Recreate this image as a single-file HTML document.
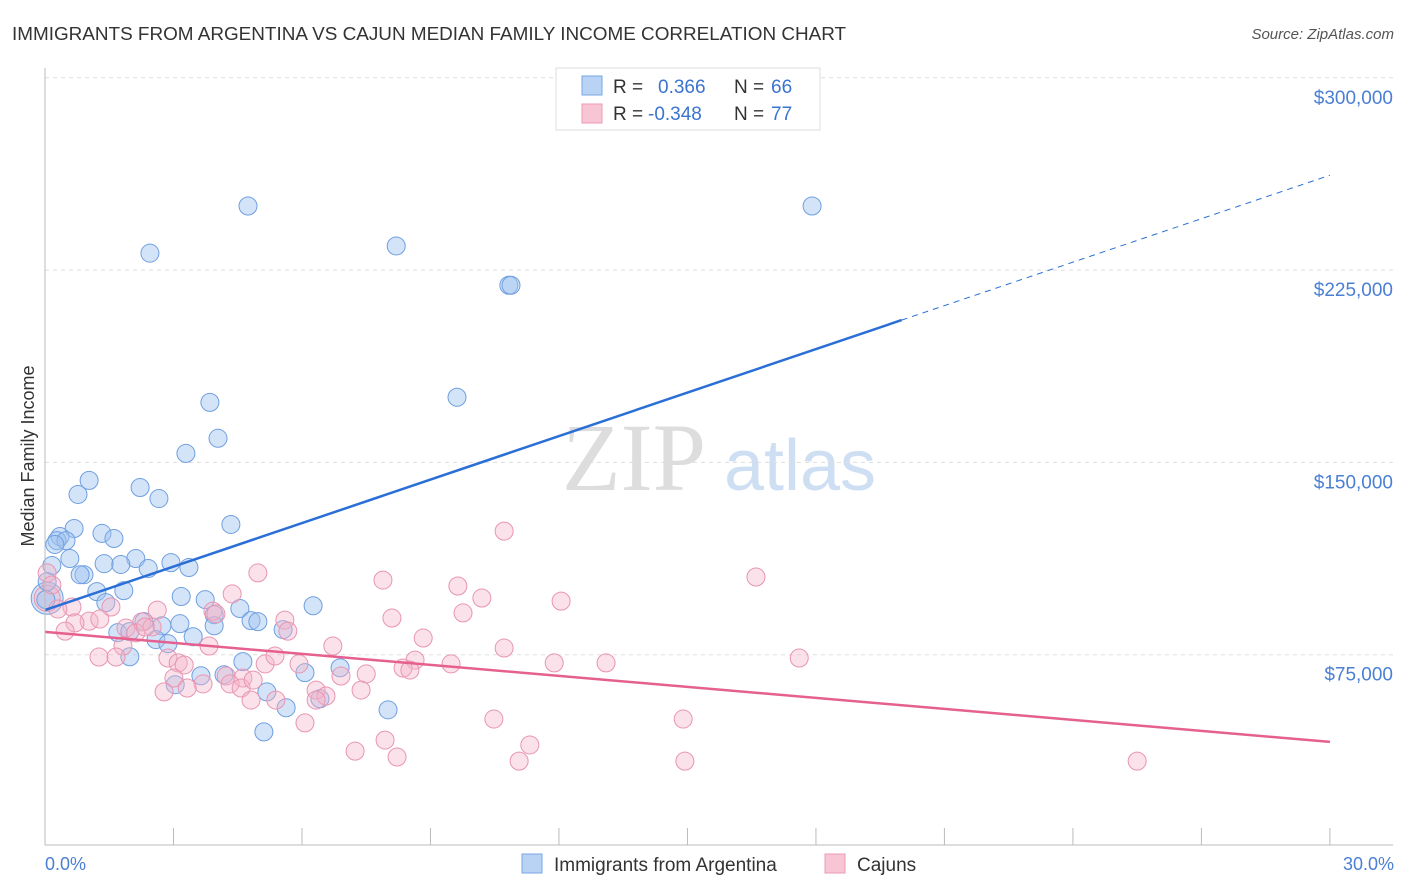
<!DOCTYPE html>
<html><head><meta charset="utf-8"><style>
body{margin:0;background:#fff;font-family:"Liberation Sans",sans-serif;}
svg{display:block}
</style></head><body>
<svg id="chart" width="1406" height="892">
<text x="12" y="40" font-size="18.9" fill="#333">IMMIGRANTS FROM ARGENTINA VS CAJUN MEDIAN FAMILY INCOME CORRELATION CHART</text>
<text x="1394" y="39" font-size="15" fill="#555" font-style="italic" text-anchor="end">Source: ZipAtlas.com</text>
<text transform="translate(34,456) rotate(-90)" font-size="18" fill="#333" text-anchor="middle">Median Family Income</text>
<g><text x="634" y="490" font-size="96" fill="#ddd" font-family="Liberation Serif,serif" text-anchor="middle">ZIP</text><text x="800" y="490" font-size="72" fill="#cfdff3" text-anchor="middle">atlas</text></g>
<g id="grid"></g><g id="ticks"></g><g id="marks"></g><g id="lines"></g>
<line x1="45" y1="68" x2="45" y2="845" stroke="#bbb"/>
<line x1="45" y1="845" x2="1393" y2="845" stroke="#bbb"/>
<text x="45" y="870" font-size="18" fill="#4a7fd4">0.0%</text>
<text x="1394" y="870" font-size="18" fill="#4a7fd4" text-anchor="end">30.0%</text>
<g>
<rect x="556" y="68" width="264" height="62" fill="#fff" stroke="#ddd"/>
<rect x="582" y="76" width="20" height="19" fill="#b9d3f5" stroke="#7aa5e3"/>
<rect x="582" y="104" width="20" height="19" fill="#f8c5d5" stroke="#eb9ab5"/>
<text x="613" y="93" font-size="19" fill="#333">R = </text><text x="658" y="93" font-size="19" fill="#3a74d0">0.366</text>
<text x="734" y="93" font-size="19" fill="#333">N = </text><text x="771" y="93" font-size="19" fill="#3a74d0">66</text>
<text x="613" y="120" font-size="19" fill="#333">R = </text><text x="648" y="120" font-size="19" fill="#3a74d0">-0.348</text>
<text x="734" y="120" font-size="19" fill="#333">N = </text><text x="771" y="120" font-size="19" fill="#3a74d0">77</text>
</g>
<g><rect x="522" y="854" width="20" height="19" fill="#b9d3f5" stroke="#7aa5e3"/><text x="554" y="871" font-size="19" fill="#333">Immigrants from Argentina</text></g>
<g><rect x="825" y="854" width="20" height="19" fill="#f8c5d5" stroke="#eb9ab5"/><text x="857" y="871" font-size="19" fill="#333">Cajuns</text></g>
</svg>
<script>
const yTicks=[75000,150000,225000,300000];
const yTickLabels=["$75,000","$150,000","$225,000","$300,000"];
const xTickPcts=[0,3,6,9,12,15,18,21,24,27,30];
const blueX=[4.74,2.45,8.20,10.83,10.88,17.91,3.85,9.62,4.04,3.29,1.03,0.77,2.22,2.66,4.34,0.68,0.35,0.28,0.49,1.33,1.61,0.23,0.58,0.16,2.12,1.38,1.77,2.94,3.36,2.41,0.91,0.82,0.05,0.02,1.21,1.84,3.18,1.42,3.74,4.55,3.95,4.81,4.97,6.26,2.31,2.73,3.15,3.95,1.70,1.98,5.56,2.59,2.87,3.46,1.98,4.62,3.64,4.18,6.07,6.89,3.04,5.18,5.63,6.42,8.01,5.11];
const blueY=[250,231.6,234.4,219.1,219.1,250,173.4,175.4,159.4,153.5,143,137.5,140.2,135.9,125.8,124.2,121.1,119.5,119.5,122.3,120.3,118,112.5,109.8,112.5,110.5,110.2,110.9,109,108.6,106.2,106.2,103.5,96.5,99.6,100,97.7,95.3,96.5,93,90.6,88.3,87.9,94.1,87.9,86.3,87.1,86.3,83.6,84,84.8,80.9,79.3,82,74.2,72.3,66.8,67.2,68,69.9,63.3,60.5,54.3,57.8,53.5,44.9];
const pinkX=[10.72,16.60,4.97,0.05,0.16,7.89,9.64,10.20,12.05,4.37,0.63,0.30,2.62,3.92,1.54,9.76,8.10,5.60,1.03,1.28,0.70,2.26,1.89,2.50,2.12,0.47,5.67,8.83,6.72,3.83,1.82,1.26,1.66,2.87,3.11,3.25,8.64,9.48,10.72,11.89,13.10,17.61,5.14,5.93,5.37,8.36,8.52,3.01,6.91,7.50,4.23,4.62,3.69,4.32,3.32,4.58,2.78,6.33,7.38,4.81,5.39,6.56,6.33,6.07,10.48,14.90,7.24,7.94,8.22,11.32,11.07,14.94,25.50,3.99,2.34,4.86];
const pinkY=[123.2,105.3,106.9,106.9,102.2,104.1,101.8,97.1,95.9,98.7,93.6,92.8,92.4,92,93.6,91.3,89.3,88.5,88.1,88.9,87.4,87.8,85.4,85.8,83.5,84.2,84.2,81.5,78.4,78.4,78.4,74.1,74.1,73.7,71.8,71,72.9,71.4,77.6,71.8,71.8,73.7,71.4,71.4,74.5,69.8,69,65.9,66.7,67.5,66.7,65.9,63.6,63.6,62,62,60.5,61.2,61.2,57.3,57.3,58.9,57.3,48.4,49.9,49.9,37.4,41.7,35.1,39.8,33.5,33.5,33.5,90.9,85.8,65.1];
const blueTrend=[92.4,205.5,262];   // value at 0%, 20%, 30% (thousands)
const pinkTrend=[83.9,41];          // value at 0%, 30%
const NS="http://www.w3.org/2000/svg";
const xS=p=>45+p*42.83;
const yS=v=>847-v*2.564; // v in thousands
function mk(tag,attrs,parent){const e=document.createElementNS(NS,tag);for(const k in attrs)e.setAttribute(k,attrs[k]);parent.appendChild(e);return e;}
const grid=document.getElementById('grid'),ticks=document.getElementById('ticks'),marks=document.getElementById('marks'),lines=document.getElementById('lines');
yTicks.forEach((t,i)=>{const y=yS(t/1000);
 const l=mk('line',{x1:45,x2:1393,y1:y,y2:y,stroke:'#ddd','stroke-dasharray':'4,4'},grid);
 
 
 const tx=mk('text',{x:1393,y:y+26,'font-size':19,fill:'#4a7fd4','text-anchor':'end'},ticks);tx.textContent=yTickLabels[i];
 
 
});
xTickPcts.forEach(p=>{const x=xS(p);
 const l=mk('line',{x1:x,x2:x,y1:828,y2:845,stroke:'#bbb'},ticks);
 
 
});
let b=mk('circle',{cx:xS(0.05),cy:yS(97),r:16,fill:'rgba(160,195,240,0.45)',stroke:'#6f9fe0'},marks);


b=mk('circle',{cx:xS(0.05),cy:yS(97),r:13,fill:'rgba(245,180,200,0.4)',stroke:'#e895b2'},marks);


blueX.forEach((x,i)=>{const c=mk('circle',{cx:xS(x),cy:yS(blueY[i]),r:9,fill:'rgba(160,195,240,0.45)',stroke:'#6f9fe0','stroke-width':1},marks);
 
 });
pinkX.forEach((x,i)=>{const c=mk('circle',{cx:xS(x),cy:yS(pinkY[i]),r:9,fill:'rgba(245,180,200,0.4)',stroke:'#e895b2','stroke-width':1},marks);
 
 });
let t=mk('line',{x1:xS(0),y1:yS(blueTrend[0]),x2:xS(20),y2:yS(blueTrend[1]),stroke:'#2a6fd6','stroke-width':2.5},lines);


t=mk('line',{x1:xS(20),y1:yS(blueTrend[1]),x2:xS(30),y2:yS(blueTrend[2]),stroke:'#2a6fd6','stroke-width':1,'stroke-dasharray':'6,5'},lines);


t=mk('line',{x1:xS(0),y1:yS(pinkTrend[0]),x2:xS(30),y2:yS(pinkTrend[1]),stroke:'#e5608e','stroke-width':2.5},lines);


</script>
</body></html>
